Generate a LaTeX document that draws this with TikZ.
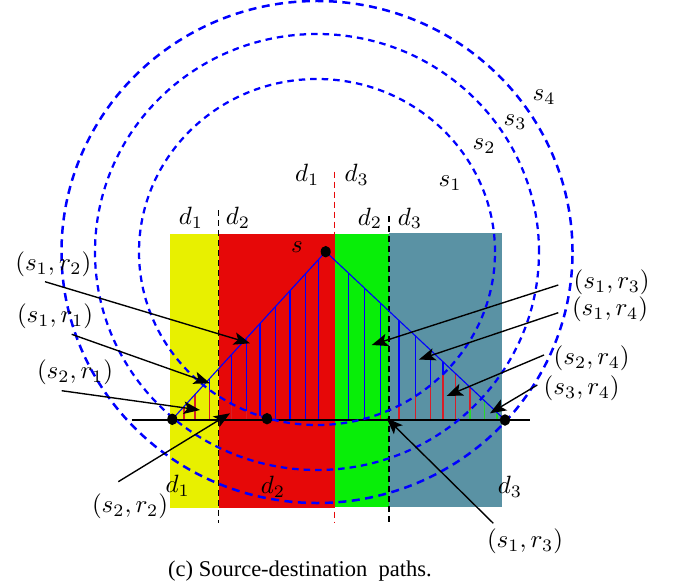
\documentclass[tikz,border=0pt]{standalone}
\usepackage{fontspec}
\newfontfamily\capfont{Liberation Serif}
\usetikzlibrary{arrows.meta,shapes.geometric}
\definecolor{cyel}{RGB}{232,240,0}
\definecolor{cred}{RGB}{230,8,8}
\definecolor{cgrn}{RGB}{8,238,8}
\definecolor{cteal}{RGB}{90,146,164}
\definecolor{hred}{RGB}{215,30,40}
\definecolor{hgrn}{RGB}{40,215,40}
\begin{document}
\begin{tikzpicture}[x=0.4pt,y=-0.4pt,
  circ/.style={blue, line width=0.9pt, dash pattern=on 2.6pt off 2pt},
  divline/.style={line width=0.5pt, dash pattern=on 2.4pt off 1.6pt},
  lbl/.style={inner sep=0pt, font=\fontsize{10}{12}\selectfont},
  dot/.style={ellipse, fill=black, inner sep=0pt, minimum width=4pt, minimum height=4.6pt},
  ptr/.style={line width=0.55pt, -{Stealth[length=6.5pt,width=5pt,inset=1.5pt]}},
  hatch/.style={line width=0.45pt}]
\useasboundingbox (0,0) rectangle (673,586);
% regions
\fill[cyel] (170,234) rectangle (218.7,507.7);
\fill[cred] (218.7,234) rectangle (334.7,507.7);
\fill[cgrn] (334.7,234) rectangle (389,507);
\fill[cteal] (389,232.7) rectangle (501.7,506.7);
% key points
\coordinate (L) at (172.3,419.3);
\coordinate (S) at (325.7,251.7);
\coordinate (R) at (505,420);
\coordinate (M) at (267,418.7);
\coordinate (O) at (317,252);
% hatching
\def\hx{184,195,209.3,231.7,246.7,260,275.7,290,305.7,318.3,348.3,364.3,380.7,399,415.5,430.5,443,455.7,470,484.3,497}
\begin{scope}
  \clip (172.3,420) -- (325.7,251.7) -- (505,420) -- cycle;
  \foreach \x in \hx {\draw[hgrn,hatch] (\x,420) -- (\x,240);}
  \begin{scope}
    \clip (O) ellipse [x radius=88.8pt, y radius=87.2pt];
    \foreach \x in \hx {\draw[hred,hatch] (\x,420) -- (\x,240);}
    \begin{scope}
      \clip (O) ellipse [x radius=71.2pt, y radius=69.2pt];
      \foreach \x in \hx {\draw[blue,hatch] (\x,420) -- (\x,240);}
    \end{scope}
  \end{scope}
\end{scope}
% baseline and dividers
\coordinate (BL) at (131.7,420);
\coordinate (BR) at (530,420);
\draw[line width=0.6pt] (BL) -- (BR);
\coordinate (D1t) at (218.7,210); \coordinate (D1b) at (218.7,523);
\coordinate (D2t) at (334.7,171.7); \coordinate (D2b) at (334.7,523);
\coordinate (D3t) at (389,216); \coordinate (D3b) at (389,523);
\draw[divline] (D1t) -- (D1b);
\draw[divline,cred,line width=0.6pt] (D2t) -- (D2b);
\draw[divline] (D3t) -- (D3b);
% circles
\draw[circ] (O) ellipse [x radius=71.2pt, y radius=69.2pt];
\draw[circ] (O) ellipse [x radius=88.8pt, y radius=87.2pt];
\draw[circ, line width=1pt, dash pattern=on 3.2pt off 2.2pt] (O) ellipse [x radius=102.2pt, y radius=100.4pt];
% triangle
\draw[blue,line width=0.45pt] (L) -- (S) -- (R);
% dots
\node[dot] (nL) at (L) {};
\node[dot] (nS) at (S) {};
\node[dot] (nR) at (R) {};
\node[dot] (nM) at (M) {};
% labels
\node[lbl] (ls4) at (544,97) {$s_4$};
\node[lbl] (ls3) at (515,122) {$s_3$};
\node[lbl] (ls2) at (484,146) {$s_2$};
\node[lbl] (ls1) at (450,183) {$s_1$};
\node[lbl] (ls) at (297,247) {$s$};
\node[lbl] (td1) at (307.3,175) {$d_1$};
\node[lbl] (td3) at (356.7,175) {$d_3$};
\node[lbl] (md1) at (191,218) {$d_1$};
\node[lbl] (md2) at (238,218) {$d_2$};
\node[lbl] (md2b) at (370,218.3) {$d_2$};
\node[lbl] (md3) at (410,218.3) {$d_3$};
\node[lbl] (bd1) at (177.7,486) {$d_1$};
\node[lbl] (bd2) at (273,487) {$d_2$};
\node[lbl] (bd3) at (510,486.7) {$d_3$};
\node[lbl] (l12) at (53.3,264) {$(s_1,r_2)$};
\node[lbl] (l11) at (55,316.7) {$(s_1,r_1)$};
\node[lbl] (l21) at (75,372) {$(s_2,r_1)$};
\node[lbl] (l22) at (130,506) {$(s_2,r_2)$};
\node[lbl] (l13u) at (611.7,282.5) {$(s_1,r_3)$};
\node[lbl] (l14) at (610,309) {$(s_1,r_4)$};
\node[lbl] (l24) at (591.7,358.3) {$(s_2,r_4)$};
\node[lbl] (l34) at (581.7,388.3) {$(s_3,r_4)$};
\node[lbl] (l13d) at (525,541.7) {$(s_1,r_3)$};
% arrow ends
\coordinate (a12s) at (45,281.7);   \coordinate (a12e) at (250,343.3);
\coordinate (a11s) at (71.7,334.3); \coordinate (a11e) at (210,383.3);
\coordinate (a21s) at (61.7,390.7); \coordinate (a21e) at (200,410);
\coordinate (a22s) at (118.3,481.7);\coordinate (a22e) at (230,413.3);
\coordinate (a13us) at (558.3,285); \coordinate (a13ue) at (371.7,345);
\coordinate (a14s) at (558.3,312.7);\coordinate (a14e) at (419,359.5);
\coordinate (a24s) at (544,355);    \coordinate (a24e) at (446.7,396);
\coordinate (a34s) at (537.3,385);  \coordinate (a34e) at (490,413.3);
\coordinate (a13ds) at (493.3,523.3);\coordinate (a13de) at (386.7,418.3);
\draw[ptr] (a12s) -- (a12e);
\draw[ptr] (a11s) -- (a11e);
\draw[ptr] (a21s) -- (a21e);
\draw[ptr] (a22s) -- (a22e);
\draw[ptr] (a13us) -- (a13ue);
\draw[ptr] (a14s) -- (a14e);
\draw[ptr] (a24s) -- (a24e);
\draw[ptr] (a34s) -- (a34e);
\draw[ptr] (a13ds) -- (a13de);
% caption
\node[inner sep=0pt, font=\capfont\fontsize{9}{11}\selectfont] (cap) at (300,571) {(c)\ Source-destination\ \ paths.};
\end{tikzpicture}
\end{document}
